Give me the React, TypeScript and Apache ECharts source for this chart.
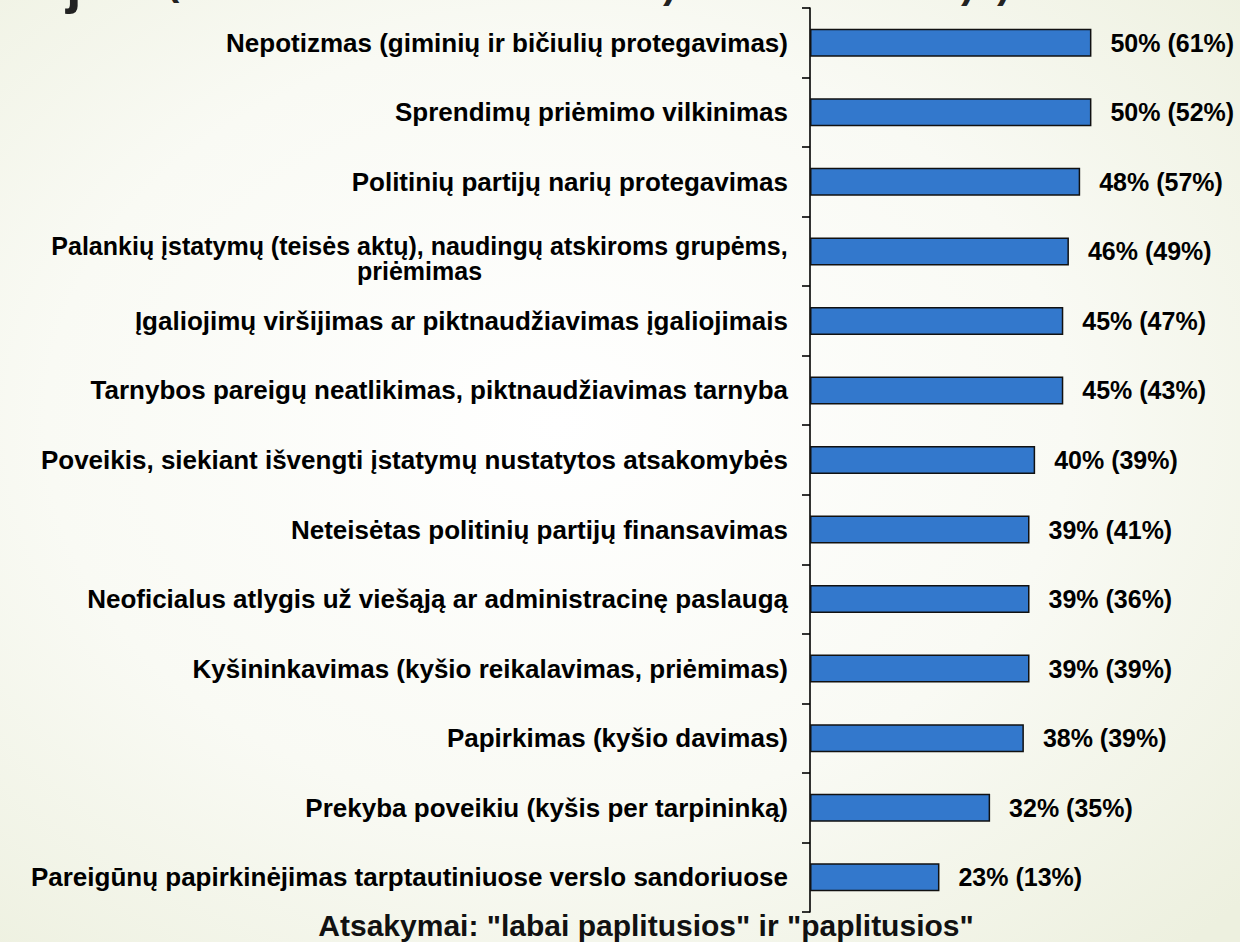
import React, { useEffect, useRef } from "react";
import * as echarts from "echarts";

const categories = [
  "Nepotizmas (giminių ir bičiulių protegavimas)",
  "Sprendimų priėmimo vilkinimas",
  "Politinių partijų narių protegavimas",
  "Palankių įstatymų (teisės aktų), naudingų atskiroms grupėms,\npriėmimas",
  "Įgaliojimų viršijimas ar piktnaudžiavimas įgaliojimais",
  "Tarnybos pareigų neatlikimas, piktnaudžiavimas tarnyba",
  "Poveikis, siekiant išvengti įstatymų nustatytos atsakomybės",
  "Neteisėtas politinių partijų finansavimas",
  "Neoficialus atlygis už viešąją ar administracinę paslaugą",
  "Kyšininkavimas (kyšio reikalavimas, priėmimas)",
  "Papirkimas (kyšio davimas)",
  "Prekyba poveikiu (kyšis per tarpininką)",
  "Pareigūnų papirkinėjimas tarptautiniuose verslo sandoriuose",
];
const currentValues = [50, 50, 48, 46, 45, 45, 40, 39, 39, 39, 38, 32, 23];
const previousValues = [61, 52, 57, 49, 47, 43, 39, 41, 36, 39, 39, 35, 13];
const footnote = 'Atsakymai: "labai paplitusios" ir "paplitusios"';

const FONT = "'Liberation Sans', Arial, Helvetica, sans-serif";

function measure(text: string, size: number): number {
  const c = document.createElement("canvas").getContext("2d");
  if (!c) return text.length * size * 0.55;
  c.font = `bold ${size}px 'Liberation Sans', Arial, sans-serif`;
  return c.measureText(text).width;
}

export default function App() {
  const ref = useRef<HTMLDivElement>(null);
  useEffect(() => {
    if (!ref.current) return;
    const chart = echarts.init(ref.current, undefined, { renderer: "svg" });
    const catSize = 26;
    const multiSize = 25;
    const valSize = 25;
    const yData = categories.map((c) => {
      if (c.indexOf("\n") < 0) return c;
      const w = Math.ceil(measure(c.split("\n")[0], multiSize));
      return {
        value: c,
        textStyle: {
          align: "center",
          padding: [0, w, 0, 0],
        },
      };
    });
    const frag = (text: string, x: number, y: number, size: number) => ({
      type: "text",
      x,
      y,
      style: { text, fontSize: size, fontWeight: "bold", fontFamily: FONT, fill: "#222" },
    });
    const option: any = {
      animation: false,
      backgroundColor: {
        type: "radial",
        x: 0.45,
        y: 0.45,
        r: 0.75,
        colorStops: [
          { offset: 0, color: "#ffffff" },
          { offset: 0.55, color: "#f9faf4" },
          { offset: 1, color: "#edf0df" },
        ],
      },
      grid: {
        left: 810,
        right: 36,
        top: 8,
        bottom: 30,
        containLabel: false,
        outerBoundsMode: "none",
      },
      xAxis: {
        type: "value",
        min: 0,
        max: 70,
        show: false,
      },
      yAxis: {
        type: "category",
        inverse: true,
        data: yData,
        axisLine: { show: true, lineStyle: { color: "#000", width: 1.6 } },
        axisTick: { show: true, length: 8, lineStyle: { color: "#000", width: 1.6 } },
        splitLine: { show: false },
        axisLabel: {
          margin: 22,
          color: "#000",
          fontSize: catSize,
          fontWeight: "bold",
          fontFamily: FONT,
          hideOverlap: false,
          formatter: (v: string) => {
            if (v.indexOf("\n") < 0) return v;
            return "{s| }\n" + v.split("\n").map((l) => `{c|${l}}`).join("\n");
          },
          rich: {
            s: { fontSize: 8, lineHeight: 14 },
            c: {
              fontSize: multiSize,
              fontWeight: "bold",
              fontFamily: FONT,
              color: "#000",
              lineHeight: 25,
              align: "center",
            },
          },
        },
      },
      series: [
        {
          type: "bar",
          data: currentValues,
          barWidth: 28,
          itemStyle: { color: "#3378CC", borderColor: "#111", borderWidth: 1.5 },
          label: {
            show: true,
            position: "right",
            distance: 19,
            color: "#000",
            fontSize: valSize,
            fontWeight: "bold",
            fontFamily: FONT,
            formatter: (p: any) => `${p.value}% (${previousValues[p.dataIndex]}%)`,
          },
        },
      ],
      graphic: [
        {
          type: "text",
          x: 646,
          y: 910,
          style: {
            text: footnote,
            fontSize: 30,
            fontWeight: "bold",
            fontFamily: FONT,
            fill: "#111",
            align: "center",
          },
          z: 100,
        },
        frag("j", 66, -46, 56),
        frag("(", 166, -39, 40),
        frag(")", 663, -36, 40),
        frag(")", 961, -36, 40),
        frag(")", 997, -36, 40),
      ],
    };
    chart.setOption(option);
    return () => chart.dispose();
  }, []);
  return (
    <div
      ref={ref}
      style={{ position: "absolute", left: 0, top: 0, width: 1240, height: 942, overflow: "hidden" }}
    />
  );
}
